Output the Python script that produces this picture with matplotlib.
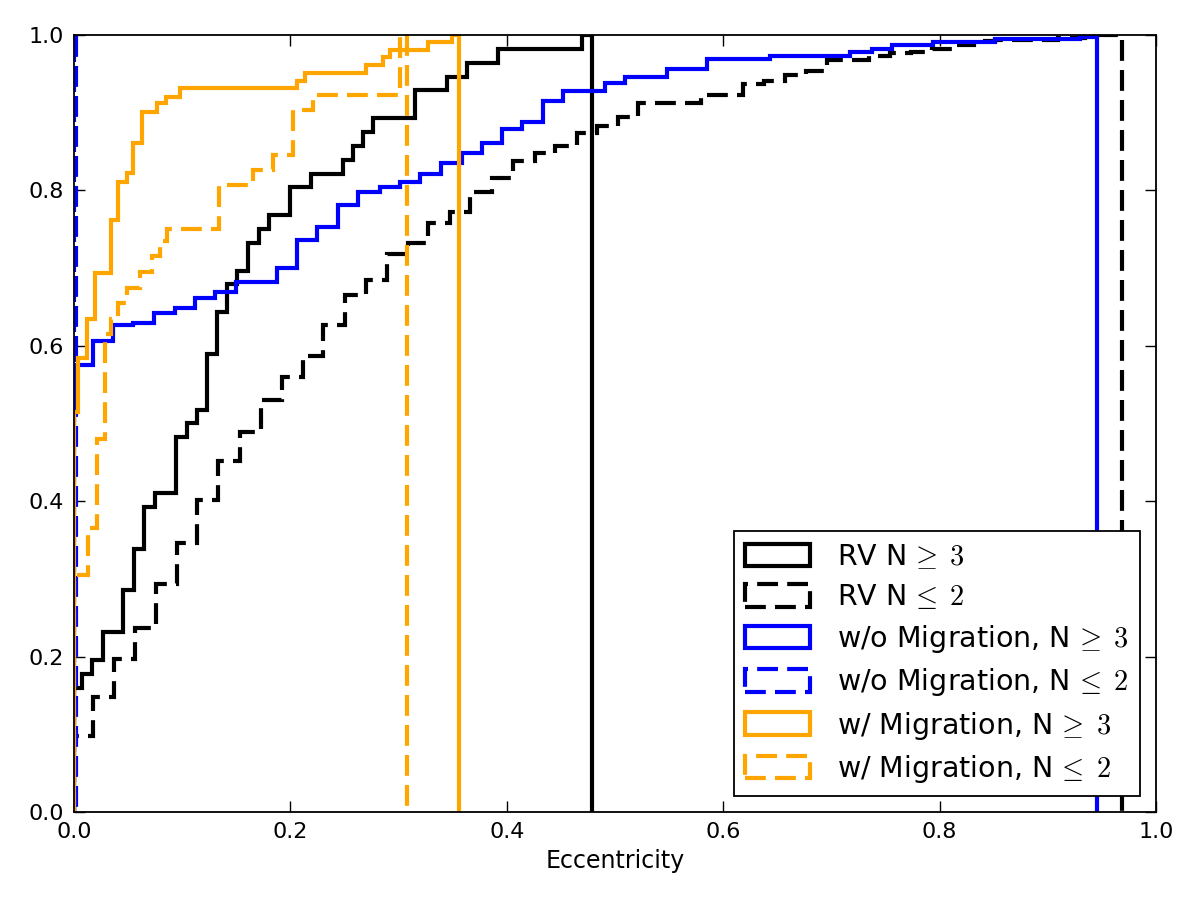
import matplotlib
matplotlib.use('Agg')
import matplotlib.pyplot as plt
import numpy as np

plt.rcParams['font.family'] = 'DejaVu Sans'
plt.rcParams['mathtext.fontset'] = 'cm'

# cumulative fractions: bin edges + step values
rv_hi_edges = [0, 0.0074, 0.0166, 0.0268, 0.0453, 0.0555, 0.0647, 0.0749, 0.0943, 0.1044,
               0.1137, 0.1229, 0.1322, 0.1414, 0.1506, 0.1608, 0.171, 0.1802, 0.1996, 0.219,
               0.2486, 0.2579, 0.2671, 0.2763, 0.3152, 0.3447, 0.3632, 0.3919, 0.4695, 0.4787]
rv_hi_vals = [0.16, 0.178, 0.196, 0.232, 0.286, 0.339, 0.393, 0.411, 0.482, 0.5,
              0.518, 0.589, 0.643, 0.679, 0.696, 0.732, 0.75, 0.768, 0.804, 0.821,
              0.839, 0.857, 0.875, 0.893, 0.929, 0.946, 0.964, 0.982, 1.0]

rv_lo_edges = [0, 0.0176, 0.037, 0.0564, 0.0758, 0.0952, 0.1137, 0.1331, 0.1534, 0.1728,
               0.1922, 0.2116, 0.2301, 0.2505, 0.2699, 0.2893, 0.3087, 0.3272, 0.3475, 0.366,
               0.3863, 0.4057, 0.4261, 0.4445, 0.4649, 0.4834, 0.5028, 0.5213, 0.5795, 0.6183,
               0.6377, 0.6571, 0.6765, 0.6959, 0.7348, 0.7542, 0.7736, 0.793, 0.8124, 0.8318,
               0.8512, 0.9094, 0.9344, 0.9686]
rv_lo_vals = [0.098, 0.148, 0.197, 0.237, 0.293, 0.346, 0.402, 0.452, 0.489, 0.530,
              0.560, 0.587, 0.627, 0.665, 0.685, 0.718, 0.732, 0.758, 0.772, 0.798,
              0.816, 0.838, 0.848, 0.857, 0.874, 0.883, 0.895, 0.913, 0.923, 0.937,
              0.941, 0.949, 0.954, 0.968, 0.973, 0.977, 0.978, 0.982, 0.987, 0.992,
              0.994, 0.996, 1.0]

nomig_hi_edges = [0, 0.0176, 0.036, 0.0545, 0.0739, 0.0933, 0.1118, 0.1303, 0.1497, 0.1876,
                  0.2061, 0.2246, 0.244, 0.2625, 0.2828, 0.3013, 0.3198, 0.3392, 0.3586, 0.3771,
                  0.3956, 0.414, 0.4335, 0.4519, 0.4908, 0.5092, 0.5481, 0.585, 0.6433, 0.7172,
                  0.7375, 0.756, 0.7939, 0.8512, 0.9298, 0.9436, 0.9455]
nomig_hi_vals = [0.575, 0.606, 0.627, 0.629, 0.642, 0.649, 0.662, 0.669, 0.682, 0.700,
                 0.736, 0.753, 0.781, 0.798, 0.804, 0.811, 0.821, 0.835, 0.848, 0.861,
                 0.879, 0.888, 0.915, 0.928, 0.938, 0.946, 0.956, 0.969, 0.973, 0.978,
                 0.982, 0.987, 0.991, 0.995, 0.997, 1.0]

nomig_lo_edges = [0, 0.0015]
nomig_lo_vals = [1.0]

mig_hi_edges = [0, 0.0037, 0.012, 0.0194, 0.0342, 0.0407, 0.049, 0.0545, 0.0628, 0.0767,
                0.085, 0.098, 0.2061, 0.2135, 0.2699, 0.2856, 0.2921, 0.3272, 0.3494, 0.3558]
mig_hi_vals = [0.515, 0.584, 0.634, 0.694, 0.762, 0.811, 0.822, 0.861, 0.901, 0.912,
               0.920, 0.932, 0.941, 0.951, 0.961, 0.972, 0.981, 0.991, 1.0]

mig_lo_edges = [0, 0.0129, 0.0213, 0.0287, 0.0342, 0.0407, 0.049, 0.061, 0.0721, 0.0795,
                0.086, 0.134, 0.1654, 0.1839, 0.2024, 0.2209, 0.3013, 0.3078]
mig_lo_vals = [0.305, 0.365, 0.48, 0.615, 0.635, 0.655, 0.675, 0.695, 0.715, 0.735,
               0.75, 0.807, 0.826, 0.846, 0.903, 0.923, 1.0]

series = [
    (rv_hi_edges, rv_hi_vals, 'black', 'solid', r'RV N$\,\geq\;3$'),
    (rv_lo_edges, rv_lo_vals, 'black', 'dashed', r'RV N$\,\leq\;2$'),
    (nomig_hi_edges, nomig_hi_vals, 'blue', 'solid', r'w/o Migration, N$\,\geq\;3$'),
    (nomig_lo_edges, nomig_lo_vals, 'blue', 'dashed', r'w/o Migration, N$\,\leq\;2$'),
    (mig_hi_edges, mig_hi_vals, 'orange', 'solid', r'w/ Migration, N$\,\geq\;3$'),
    (mig_lo_edges, mig_lo_vals, 'orange', 'dashed', r'w/ Migration, N$\,\leq\;2$'),
]

fig = plt.figure(figsize=(12, 9), dpi=100)
ax = fig.add_axes([0.0617, 0.0978, 0.9016, 0.8633])

for edges, vals, col, ls, lab in series:
    edges = np.array(edges)
    ls_ = (0, (5, 2.2)) if ls == 'dashed' else '-'
    ax.hist(edges[:-1], bins=edges, weights=vals, histtype='step',
            color=col, linestyle=ls_, linewidth=3, label=lab)

ax.set_xlim(0, 1)
ax.set_ylim(0, 1)
ax.set_xticks(np.arange(0, 1.01, 0.2))
ax.set_yticks(np.arange(0, 1.01, 0.2))
ax.set_xticklabels(['%.1f' % v for v in np.arange(0, 1.01, 0.2)])
ax.set_yticklabels(['%.1f' % v for v in np.arange(0, 1.01, 0.2)])
ax.tick_params(direction='in', length=8, width=1, labelsize=16, top=True, right=True, pad=7)
for s in ax.spines.values():
    s.set_linewidth(1.3)
ax.set_xlabel('Eccentricity', fontsize=17, labelpad=5)

leg = ax.legend(loc='lower right', fontsize=20.5, fancybox=False, framealpha=1,
                edgecolor='black', handlelength=2.3, handleheight=0.85,
                handletextpad=0.95, borderpad=0.4,
                borderaxespad=0.55, labelspacing=0.4)
leg.get_frame().set_linewidth(1.3)

fig.savefig('out.png', dpi=100, facecolor='white')
